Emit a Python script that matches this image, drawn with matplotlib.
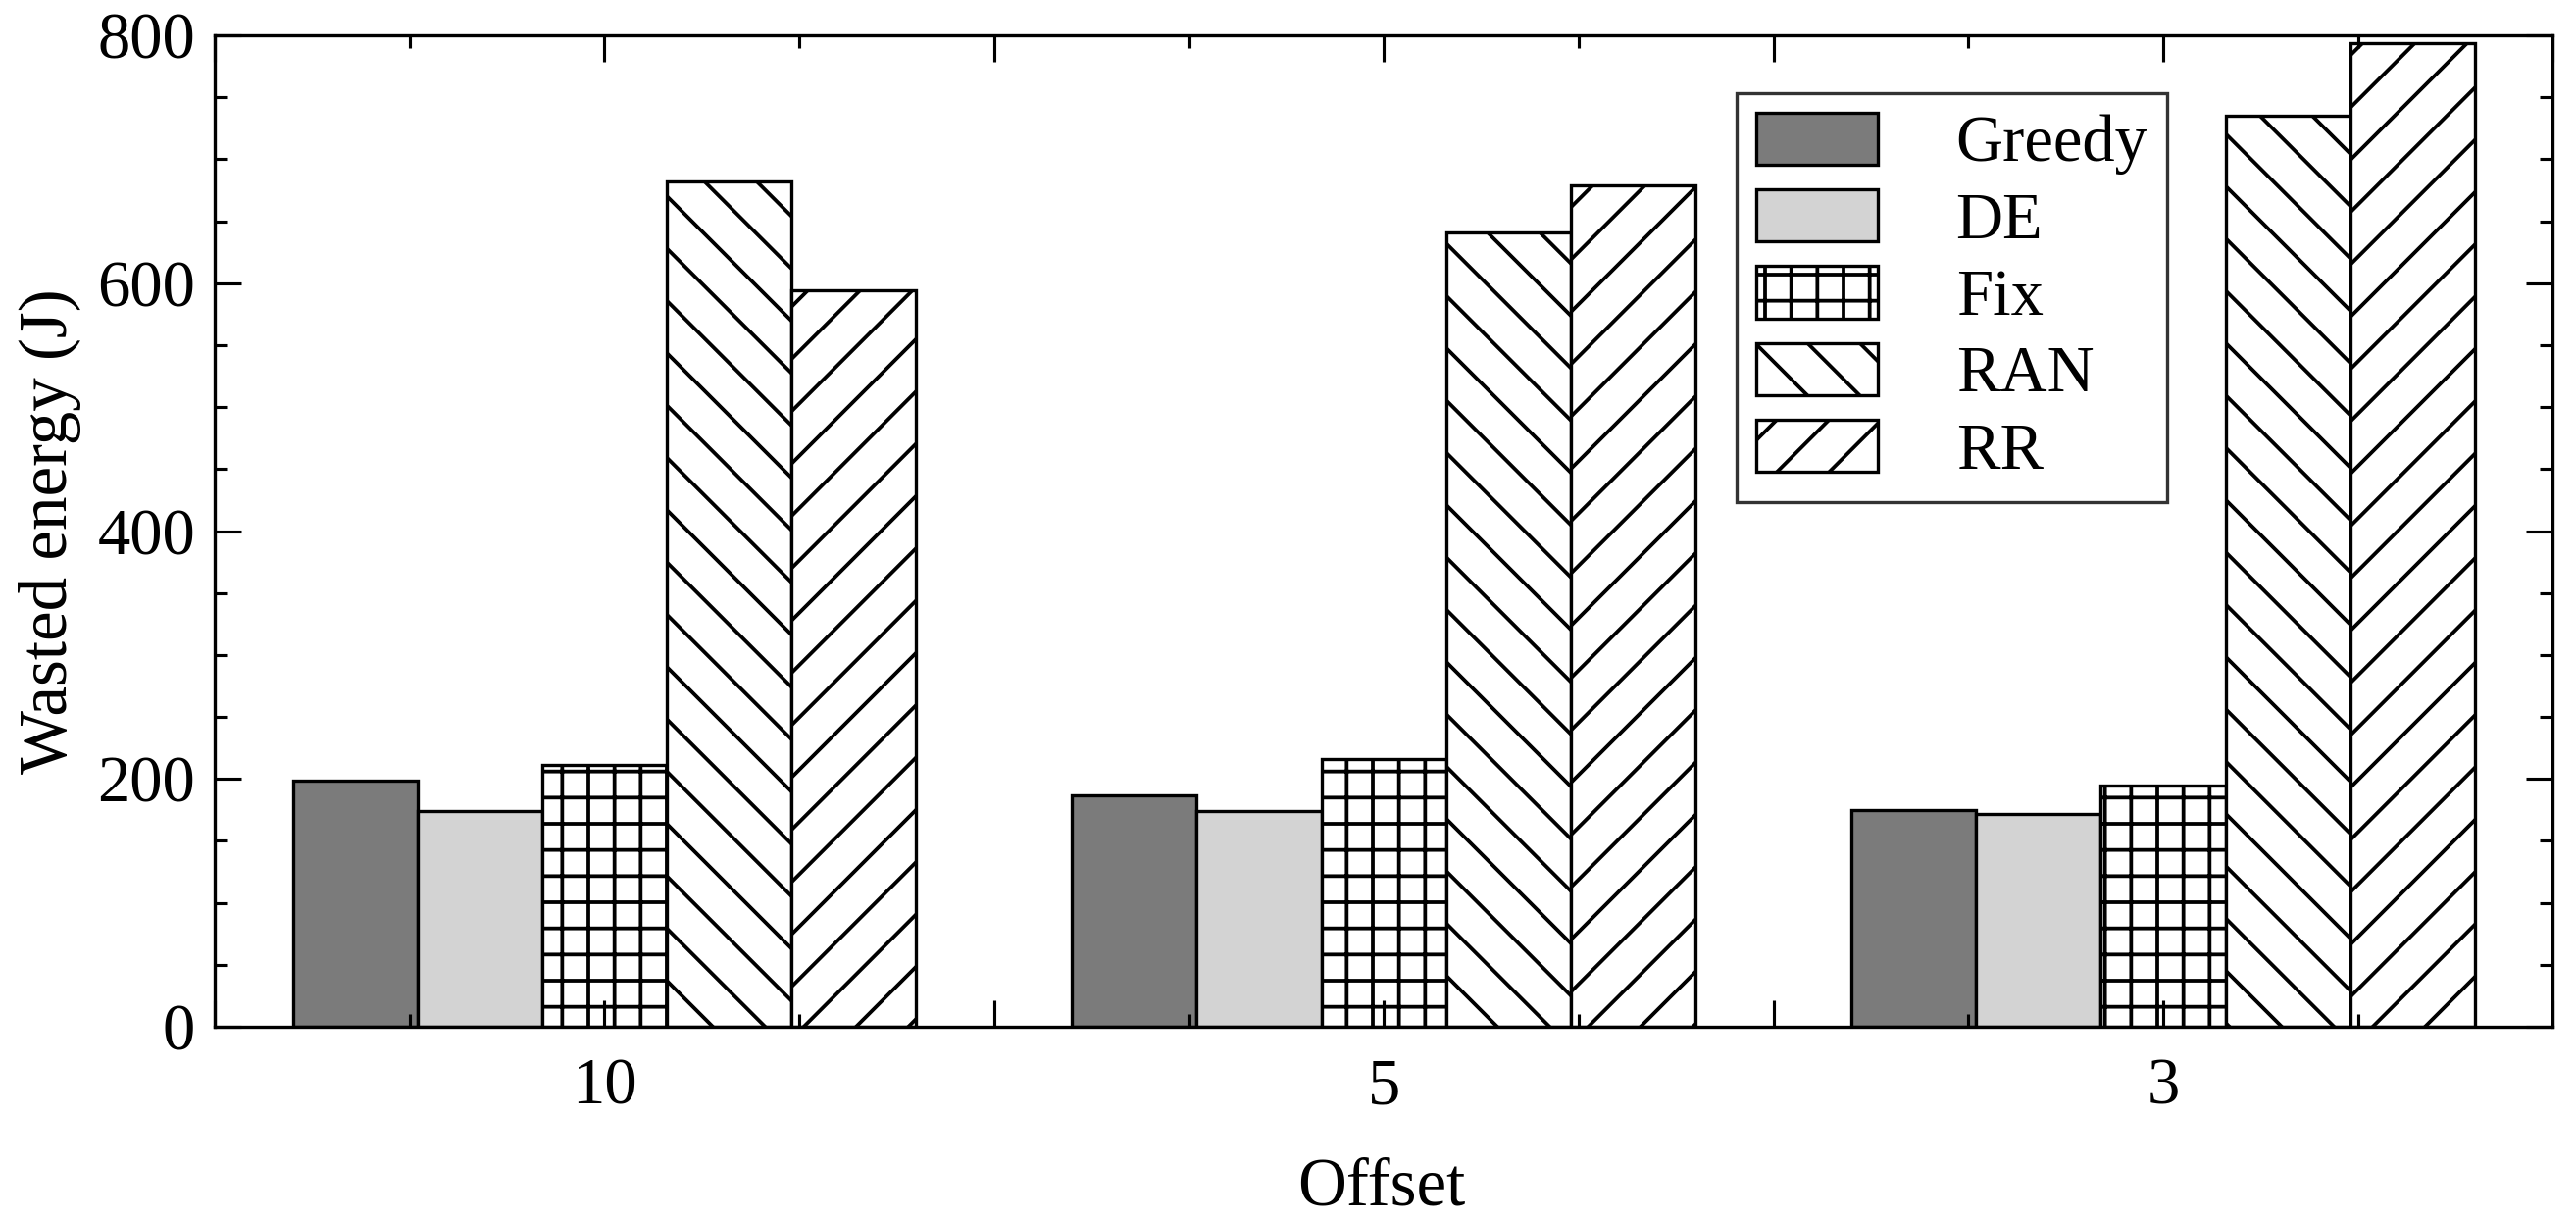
import numpy as np
import matplotlib
matplotlib.use("Agg")
import matplotlib.pyplot as plt
from matplotlib.ticker import MultipleLocator, FuncFormatter

# data
offsets = ["10", "5", "3"]
methods = ["Greedy", "DE", "Fix", "RAN", "RR"]
greedy = [199, 187, 175]
de = [174, 174, 172]
fix = [211, 216, 195]
ran = [682, 641, 735]
rr = [594, 679, 794]

colors = ["#7b7b7b", "#d3d3d3", "white", "white", "white"]
hatches = [None, None, "+", "\\", "/"]

plt.rcParams["font.family"] = ["Liberation Serif", "DejaVu Serif"]
plt.rcParams["hatch.linewidth"] = 1.7

dpi = 160
fig = plt.figure(figsize=(2627 / dpi, 1243 / dpi), dpi=dpi)
ax = fig.add_axes([0.0834, 0.1577, 0.991 - 0.0834, 0.971 - 0.1577])

x = np.arange(len(offsets))
w = 0.16
series = [greedy, de, fix, ran, rr]
for i, (name, vals) in enumerate(zip(methods, series)):
    ax.bar(x + (i - 2) * w, vals, w, color=colors[i], edgecolor="black",
           linewidth=1.5, hatch=hatches[i], label=name)

ax.set_xlim(-0.5, 2.5)
ax.set_ylim(0, 800)
ax.yaxis.set_major_locator(MultipleLocator(200))
ax.yaxis.set_minor_locator(MultipleLocator(50))
ax.xaxis.set_major_locator(MultipleLocator(0.5))
ax.xaxis.set_minor_locator(MultipleLocator(0.25))


def xfmt(v, pos):
    k = int(round(v))
    if abs(v - k) < 1e-6 and 0 <= k < len(offsets):
        return offsets[k]
    return ""


ax.xaxis.set_major_formatter(FuncFormatter(xfmt))

ax.tick_params(which="both", direction="in", top=True, right=True, width=1.4)
ax.tick_params(which="major", length=12)
ax.tick_params(which="minor", length=6)
ax.tick_params(axis="y", labelsize=30, pad=9)
ax.tick_params(axis="x", labelsize=30, pad=14)
for s in ax.spines.values():
    s.set_linewidth(1.5)

ax.set_xlabel("Offset", fontsize=31)
ax.set_ylabel("Wasted energy (J)", fontsize=31)
ax.xaxis.set_label_coords(0.499, -0.132)
ax.yaxis.set_label_coords(-0.057, 0.5)

leg = ax.legend(loc="upper left", bbox_to_anchor=(0.651, 0.942), borderaxespad=0,
                fontsize=30, frameon=True, fancybox=False, handlelength=1.85,
                handleheight=0.85, handletextpad=1.2, labelspacing=0.22,
                borderpad=0.3)
leg.get_frame().set_edgecolor("black")
leg.get_frame().set_linewidth(1.5)

fig.savefig("out.png", dpi=dpi)
